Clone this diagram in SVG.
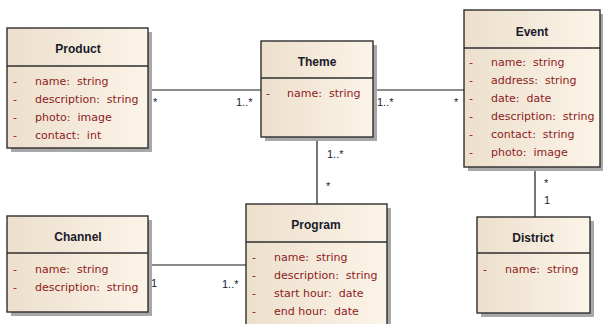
<svg xmlns="http://www.w3.org/2000/svg" width="603" height="324" viewBox="0 0 603 324">
  <defs>
    <linearGradient id="fill" x1="0" y1="0" x2="1" y2="0">
      <stop offset="0" stop-color="#ECDFCC"/>
      <stop offset="1" stop-color="#FCF4E8"/>
    </linearGradient>
  </defs>
  <style>
    .shadow { fill: #A8A8A8; }
    .box { fill: url(#fill); stroke: #2E2E2E; stroke-width: 1.4; }
    .div { stroke: #2E2E2E; stroke-width: 1.4; }
    .title { font-family: "Liberation Sans", Arial, sans-serif; font-size: 12px; font-weight: bold; fill: #1A1A2A; text-anchor: middle; }
    .attr { font-family: "DejaVu Sans", Verdana, sans-serif; font-size: 11px; fill: #8E1B1B; white-space: pre; }
    .conn { stroke: #1A1A1A; stroke-width: 1.2; fill: none; }
    .mult { font-family: "Liberation Sans", Arial, sans-serif; font-size: 11px; fill: #1A1A3A; }
  </style>

  <g id="connectors">
    <line class="conn" x1="148" y1="90" x2="261" y2="90"/>
    <line class="conn" x1="373" y1="90" x2="464" y2="90"/>
    <line class="conn" x1="317" y1="137" x2="317" y2="204"/>
    <line class="conn" x1="148" y1="265" x2="246" y2="265"/>
    <line class="conn" x1="535" y1="167" x2="535" y2="217"/>
    <text class="mult" x="153" y="106">*</text>
    <text class="mult" x="236" y="106">1..*</text>
    <text class="mult" x="377" y="106">1..*</text>
    <text class="mult" x="454" y="106">*</text>
    <text class="mult" x="327" y="158">1..*</text>
    <text class="mult" x="326" y="190">*</text>
    <text class="mult" x="544" y="187">*</text>
    <text class="mult" x="544" y="204">1</text>
    <text class="mult" x="151" y="287">1</text>
    <text class="mult" x="222" y="288">1..*</text>
  </g>

  <g id="product">
    <rect class="shadow" x="11" y="32" width="141" height="120"/>
    <rect class="box" x="7" y="28" width="141" height="120"/>
    <line class="div" x1="7" y1="66" x2="148" y2="66"/>
    <text class="title" x="78" y="53">Product</text>
    <text class="attr" x="13" y="85">-</text><text class="attr" x="35" y="85">name:  string</text>
    <text class="attr" x="13" y="103">-</text><text class="attr" x="35" y="103">description:  string</text>
    <text class="attr" x="13" y="121">-</text><text class="attr" x="35" y="121">photo:  image</text>
    <text class="attr" x="13" y="139">-</text><text class="attr" x="35" y="139">contact:  int</text>
  </g>

  <g id="theme">
    <rect class="shadow" x="265" y="45" width="112" height="96"/>
    <rect class="box" x="261" y="41" width="112" height="96"/>
    <line class="div" x1="261" y1="78" x2="373" y2="78"/>
    <text class="title" x="317" y="66">Theme</text>
    <text class="attr" x="266" y="97">-</text><text class="attr" x="287" y="97">name:  string</text>
  </g>

  <g id="event">
    <rect class="shadow" x="468" y="14" width="136" height="157"/>
    <rect class="box" x="464" y="10" width="136" height="157"/>
    <line class="div" x1="464" y1="48" x2="600" y2="48"/>
    <text class="title" x="532" y="36">Event</text>
    <text class="attr" x="469" y="66">-</text><text class="attr" x="491" y="66">name:  string</text>
    <text class="attr" x="469" y="84">-</text><text class="attr" x="491" y="84">address:  string</text>
    <text class="attr" x="469" y="102">-</text><text class="attr" x="491" y="102">date:  date</text>
    <text class="attr" x="469" y="120">-</text><text class="attr" x="491" y="120">description:  string</text>
    <text class="attr" x="469" y="138">-</text><text class="attr" x="491" y="138">contact:  string</text>
    <text class="attr" x="469" y="156">-</text><text class="attr" x="491" y="156">photo:  image</text>
  </g>

  <g id="channel">
    <rect class="shadow" x="11" y="220" width="141" height="96"/>
    <rect class="box" x="7" y="216" width="141" height="96"/>
    <line class="div" x1="7" y1="253" x2="148" y2="253"/>
    <text class="title" x="78" y="241">Channel</text>
    <text class="attr" x="13" y="273">-</text><text class="attr" x="35" y="273">name:  string</text>
    <text class="attr" x="13" y="291">-</text><text class="attr" x="35" y="291">description:  string</text>
  </g>

  <g id="program">
    <rect class="shadow" x="250" y="208" width="141" height="130"/>
    <rect class="box" x="246" y="204" width="141" height="130"/>
    <line class="div" x1="246" y1="242" x2="387" y2="242"/>
    <text class="title" x="316" y="229">Program</text>
    <text class="attr" x="252" y="261">-</text><text class="attr" x="274" y="261">name:  string</text>
    <text class="attr" x="252" y="279">-</text><text class="attr" x="274" y="279">description:  string</text>
    <text class="attr" x="252" y="297">-</text><text class="attr" x="274" y="297">start hour:  date</text>
    <text class="attr" x="252" y="315">-</text><text class="attr" x="274" y="315">end hour:  date</text>
  </g>

  <g id="district">
    <rect class="shadow" x="481" y="221" width="113" height="96"/>
    <rect class="box" x="477" y="217" width="113" height="96"/>
    <line class="div" x1="477" y1="253" x2="590" y2="253"/>
    <text class="title" x="533" y="242">District</text>
    <text class="attr" x="483" y="273">-</text><text class="attr" x="505" y="273">name:  string</text>
  </g>
</svg>
